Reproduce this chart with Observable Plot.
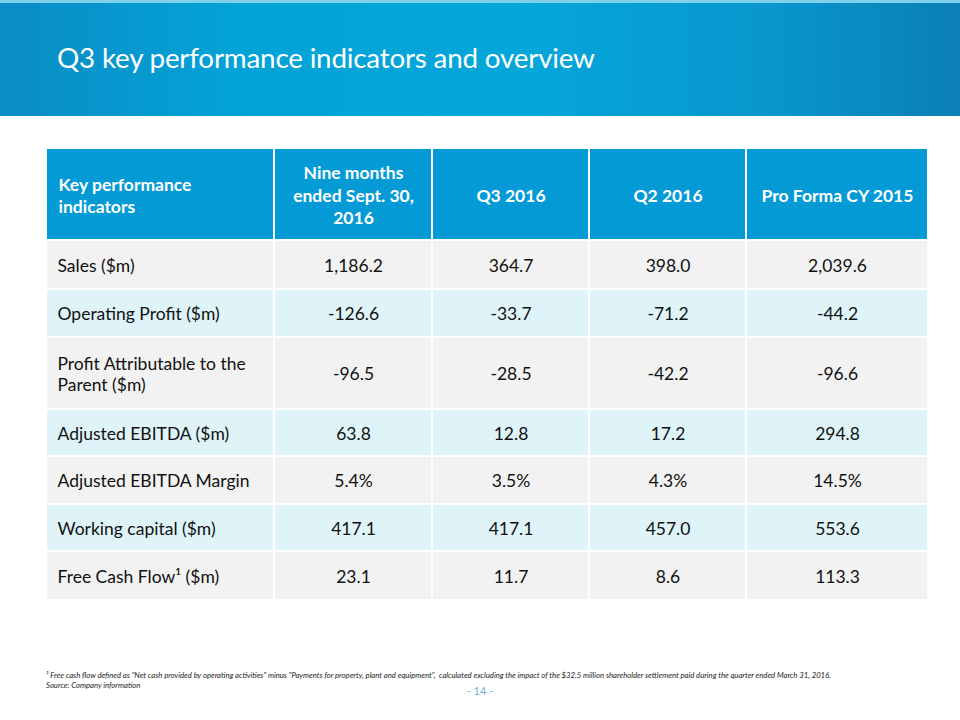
<!DOCTYPE html>
<html>
<head>
<meta charset="utf-8">
<script src="https://cdn.jsdelivr.net/npm/d3@7"></script>
<script src="https://cdn.jsdelivr.net/npm/@observablehq/plot@0.6"></script>
<style>
  html, body { margin: 0; padding: 0; background: #fff; }
  body { width: 960px; height: 720px; position: relative; overflow: hidden; font-family: Lato, "Open Sans", sans-serif; }
  #banner { position: absolute; left: 0; top: 0; width: 960px; height: 116px;
    background: linear-gradient(90deg, #0a8cc4 0%, #03a3d8 25%, #05a6da 55%, #0897cd 80%, #0a7fb5 100%);
    border-top: 3px solid #7fd0ec; box-sizing: border-box; }
  #title { position: absolute; left: 57px; top: 38px; color: #fff; font-size: 27.8px; font-weight: 400; letter-spacing: -0.2px; }
  #chart { position: absolute; left: 0; top: 116px; }
  #foot { position: absolute; left: 46px; top: 670px; font-size: 7.7px; font-style: italic; color: #222; line-height: 10px; }
  #page { position: absolute; left: 0; width: 960px; top: 684px; text-align: center; font-size: 11px; color: #6ab4dd; }
</style>
</head>
<body>
<div id="banner"><div id="title">Q3 key performance indicators and overview</div></div>
<div id="chart"></div>
<div id="foot">¹ Free cash flow defined as "Net cash provided by operating activities" minus "Payments for property, plant and equipment",&nbsp; calculated excluding the impact of the $32.5 million shareholder settlement paid during the quarter ended March 31, 2016.<br>Source: Company information</div>
<div id="page">- 14 -</div>
<script>
// ---- data ----
const headers = ["Key performance\nindicators", "Nine months\nended Sept. 30,\n2016", "Q3 2016", "Q2 2016", "Pro Forma CY 2015"];
const indicators = ["Sales ($m)", "Operating Profit ($m)", "Profit Attributable to the\nParent ($m)", "Adjusted EBITDA ($m)", "Adjusted EBITDA Margin", "Working capital ($m)", "Free Cash Flow¹ ($m)"];
const isPercent = [false, false, false, false, true, false, false];
const nineMonths = [1186.2, -126.6, -96.5, 63.8, 5.4, 417.1, 23.1];
const q3_2016 = [364.7, -33.7, -28.5, 12.8, 3.5, 417.1, 11.7];
const q2_2016 = [398.0, -71.2, -42.2, 17.2, 4.3, 457.0, 8.6];
const proFormaCY2015 = [2039.6, -44.2, -96.6, 294.8, 14.5, 553.6, 113.3];

// ---- layout ----
const colWidths = [228, 158, 157, 157, 182];
const rowHeights = [92, 49, 48, 72, 47, 48, 47, 49];
const headerFill = "#049ad6", grayFill = "#f2f2f2", cyanFill = "#def4f9";

const cumX = [0]; colWidths.forEach(w => cumX.push(cumX[cumX.length - 1] + w));
const cumY = [0]; rowHeights.forEach(h => cumY.push(cumY[cumY.length - 1] + h));

const fmt = d3.format(",.1f");
const fmtVal = (v, pct) => (v < 0 ? "-" : "") + fmt(Math.abs(v)) + (pct ? "%" : "");
const series = [nineMonths, q3_2016, q2_2016, proFormaCY2015];

const cells = [];
headers.forEach((h, c) => cells.push({r: 0, c, text: h, fill: headerFill}));
indicators.forEach((name, i) => {
  const fill = i % 2 === 0 ? grayFill : cyanFill;
  cells.push({r: i + 1, c: 0, text: name, fill});
  series.forEach((s, k) => cells.push({r: i + 1, c: k + 1, text: fmtVal(s[i], isPercent[i]), fill}));
});
cells.forEach(d => { d.x1 = cumX[d.c]; d.x2 = cumX[d.c + 1]; d.y1 = cumY[d.r]; d.y2 = cumY[d.r + 1]; });

const head = cells.filter(d => d.r === 0), body = cells.filter(d => d.r > 0);
const midY = d => (d.y1 + d.y2) / 2, midX = d => (d.x1 + d.x2) / 2;
const headOpts = {y: midY, text: "text", fill: "#fff", fontSize: 17.5, fontWeight: "bold", lineHeight: 1.27};
const bodyOpts = {y: midY, text: "text", fill: "#111", fontSize: 17.5, lineHeight: 1.2};

const plot = Plot.plot({
  width: 960, height: 484,
  marginLeft: 0, marginRight: 0, marginTop: 0, marginBottom: 0,
  x: {domain: [0, cumX[cumX.length - 1]], range: [46, 928], axis: null},
  y: {domain: [0, cumY[cumY.length - 1]], range: [32, 484], axis: null},
  color: {type: "identity"},
  style: {fontFamily: "Lato, 'Open Sans', sans-serif", background: "transparent", overflow: "visible"},
  marks: [
    Plot.rect(cells, {x1: "x1", x2: "x2", y1: "y1", y2: "y2", fill: "fill", inset: 1}),
    Plot.text(head.filter(d => d.c === 0), {...headOpts, x: "x1", dx: 12, textAnchor: "start"}),
    Plot.text(head.filter(d => d.c > 0), {...headOpts, x: midX, textAnchor: "middle"}),
    Plot.text(body.filter(d => d.c === 0), {...bodyOpts, x: "x1", dx: 11, textAnchor: "start"}),
    Plot.text(body.filter(d => d.c > 0), {...bodyOpts, x: midX, textAnchor: "middle"})
  ]
});
document.getElementById("chart").appendChild(plot);
</script>
</body>
</html>
